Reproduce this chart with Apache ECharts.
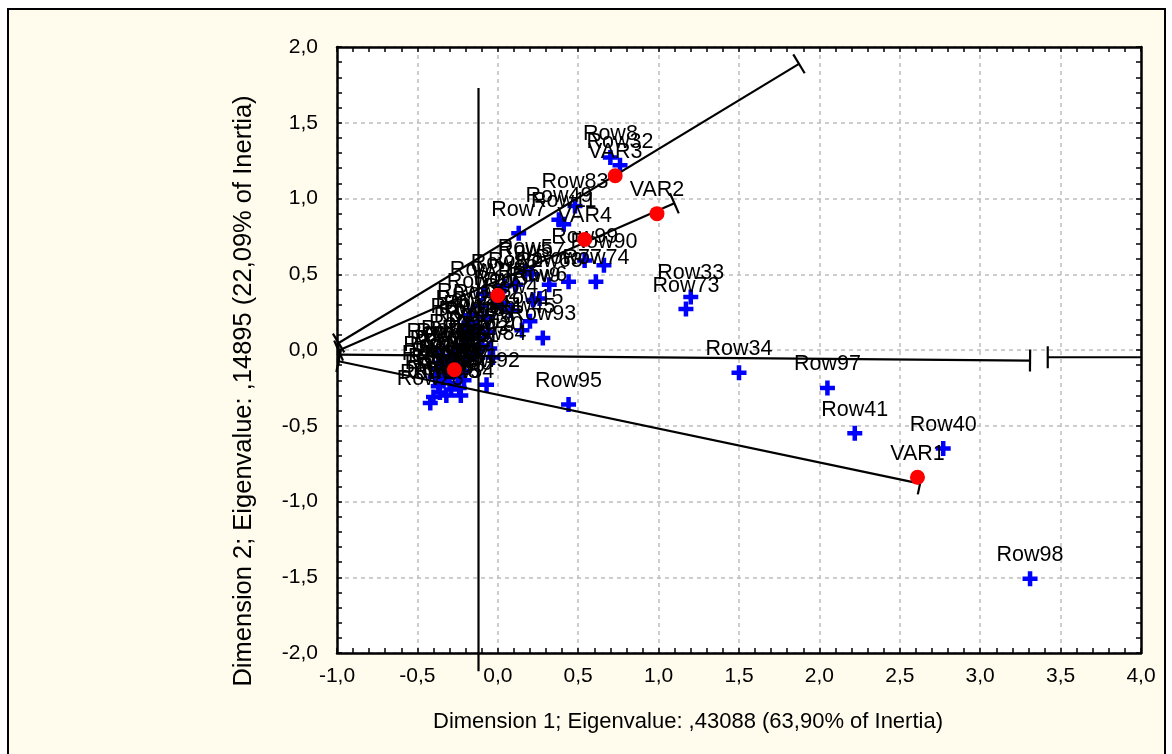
<!DOCTYPE html>
<html>
<head>
<meta charset="utf-8">
<script src="https://cdn.jsdelivr.net/npm/echarts@6/dist/echarts.min.js"></script>
<style>
html,body{margin:0;padding:0;background:#fff;}
#main{width:1172px;height:754px;}
</style>
</head>
<body>
<div id="main"></div>
<script>
// row points (blue crosses)
const rowNames = ['Row8','Row32','Row83','Row49','Row11','Row7','Row99','Row90','Row74','Row77','Row63','Row57',
  'Row33','Row73','Row15','Row45','Row93','Row84','Row92','Row95','Row34','Row97','Row41','Row40','Row98',
  'Row85','Row2','Row3','Row4','Row5','Row6','Row9',
  'Row10','Row12','Row13','Row14','Row16','Row17','Row18','Row19','Row20','Row21','Row22','Row23','Row24','Row25','Row26',
  'Row27','Row28','Row29','Row30','Row31','Row35','Row36','Row37','Row38','Row39','Row42','Row43','Row44','Row46','Row47',
  'Row48','Row50','Row51','Row52','Row53','Row54','Row55','Row56','Row58','Row59'];
const rowX = [0.70,0.76,0.48,0.38,0.41,0.13,0.54,0.66,0.61,0.44,0.32,0.21,
  1.20,1.17,0.20,0.15,0.28,-0.03,-0.07,0.44,1.50,2.05,2.22,2.77,3.31,
  0.04,0.11,0.02,0.08,0.17,0.26,0.22,
  -0.11,-0.07,-0.17,-0.13,-0.21,-0.19,-0.16,-0.10,-0.05,-0.09,-0.22,-0.14,-0.06,-0.18,-0.12,
  -0.40,-0.42,-0.37,-0.33,-0.21,-0.36,-0.30,-0.25,-0.38,-0.34,-0.30,-0.26,-0.22,-0.28,-0.35,
  -0.32,-0.24,-0.20,-0.27,-0.39,-0.23,-0.31,-0.36,-0.29,-0.25];
const rowY = [1.27,1.22,0.95,0.86,0.83,0.77,0.59,0.56,0.45,0.45,0.43,0.50,
  0.35,0.27,0.19,0.13,0.08,-0.05,-0.23,-0.36,-0.15,-0.25,-0.55,-0.65,-1.51,
  0.42,0.43,0.31,0.26,0.52,0.34,0.33,
  0.29,0.22,0.23,0.15,0.13,0.07,0.11,0.03,0.01,0.37,0.02,-0.02,0.12,0.18,0.08,
  -0.31,-0.35,-0.24,-0.17,-0.20,-0.28,-0.22,-0.18,-0.12,-0.08,-0.04,-0.10,-0.14,-0.15,-0.20,
  -0.30,-0.25,-0.06,-0.02,-0.18,-0.30,-0.11,-0.04,-0.26,-0.06];

// column points (red circles)
const varNames = ['VAR1','VAR2','VAR3','VAR4','VAR5','VAR6'];
const varX = [2.61,0.99,0.73,0.54,0.00,-0.27];
const varY = [-0.84,0.90,1.15,0.73,0.36,-0.13];

// biplot vectors: start, end, bar at start, bar at end
const vecX0 = [-0.99,-0.99,-0.99,3.42,-0.99,-0.12];
const vecY0 = [0.046,-0.004,-0.03,-0.048,-0.074,1.73];
const vecX1 = [1.873,1.098,3.31,4.00,2.626,-0.12];
const vecY1 = [1.889,0.968,-0.07,-0.048,-0.882,-2.12];
const vecBar0 = [1,1,1,1,1,0];
const vecBar1 = [1,1,1,0,1,0];

const xTicks = {min: -1, max: 4, interval: 0.5};
const yTicks = {min: -2, max: 2, interval: 0.5};

const FONT = 'Liberation Sans, Arial, sans-serif';
const comma = v => v.toFixed(1).replace('.', ',');

const crossPath = 'path://M3.5,0H6.5V3.5H10V6.5H6.5V10H3.5V6.5H0V3.5H3.5Z';

const rowData = rowNames.map((n, i) => ({name: n, value: [rowX[i], rowY[i]]}));
const varData = varNames.map((n, i) => ({name: n, value: [varX[i], varY[i]]}));
const vecData = vecX0.map((x, i) => [x, vecY0[i], vecX1[i], vecY1[i], vecBar0[i], vecBar1[i]]);

function renderVector(params, api) {
  const p0 = api.coord([api.value(0), api.value(1)]);
  const p1 = api.coord([api.value(2), api.value(3)]);
  const st = {stroke: '#000', lineWidth: 2.2};
  const kids = [{type: 'line', shape: {x1: p0[0], y1: p0[1], x2: p1[0], y2: p1[1]}, style: st}];
  const dx = p1[0] - p0[0], dy = p1[1] - p0[1];
  const len = Math.sqrt(dx * dx + dy * dy);
  const nx = -dy / len * 11, ny = dx / len * 11;
  if (api.value(4)) kids.push({type: 'line', shape: {x1: p0[0] - nx, y1: p0[1] - ny, x2: p0[0] + nx, y2: p0[1] + ny}, style: st});
  if (api.value(5)) kids.push({type: 'line', shape: {x1: p1[0] - nx, y1: p1[1] - ny, x2: p1[0] + nx, y2: p1[1] + ny}, style: st});
  return {type: 'group', children: kids};
}

function mkAxis(t, pos, main) {
  return {
    type: 'value', position: pos, min: t.min, max: t.max, interval: t.interval,
    axisLine: {show: true, onZero: false, lineStyle: {color: '#000', width: 2.5}},
    axisTick: {show: true, inside: true, length: 5, lineStyle: {color: '#000', width: 1.5}},
    minorTick: {show: true, splitNumber: 5, length: 5, lineStyle: {color: '#000', width: 1.5}},
    axisLabel: main ? {show: true, formatter: comma, color: '#000', fontFamily: FONT, fontSize: 21, margin: 13} : {show: false},
    splitLine: main ? {show: true, lineStyle: {color: '#bdbdbd', type: [4, 4], width: 1.5}} : {show: false}
  };
}

const xMain = mkAxis(xTicks, 'bottom', true);
const xTop = mkAxis(xTicks, 'top', false);
const yMain = mkAxis(yTicks, 'left', true);
yMain.axisLabel.margin = 19;
const yRight = mkAxis(yTicks, 'right', false);

const labelStyle = {show: true, position: 'top', distance: 5, formatter: '{b}', color: '#000', fontFamily: FONT, fontSize: 21.5};

const chart = echarts.init(document.getElementById('main'));
chart.setOption({
  animation: false,
  backgroundColor: '#fff',
  graphic: [
    {type: 'rect', z: -10, shape: {x: 8, y: 9, width: 1157, height: 800},
      style: {fill: '#FFFCEE', stroke: '#000', lineWidth: 2}},
    {type: 'text', x: 688, y: 722, style: {text: 'Dimension 1; Eigenvalue: ,43088 (63,90% of Inertia)',
      font: '22px ' + FONT, fill: '#000', textAlign: 'center', textVerticalAlign: 'middle'}},
    {type: 'text', x: 244, y: 391, rotation: Math.PI / 2, style: {text: 'Dimension 2; Eigenvalue: ,14895 (22,09% of Inertia)',
      font: '25.5px ' + FONT, fill: '#000', textAlign: 'center', textVerticalAlign: 'middle'}}
  ],
  grid: {left: 337, right: 31, top: 47, bottom: 101, show: true, backgroundColor: '#fff', borderWidth: 0},
  xAxis: [xMain, xTop],
  yAxis: [yMain, yRight],
  series: [
    {
      type: 'custom', renderItem: renderVector, data: vecData, clip: false, z: 3,
      encode: {x: [0, 2], y: [1, 3]}, silent: true
    },
    {
      type: 'scatter', data: rowData, symbol: crossPath, symbolSize: 15, z: 2,
      itemStyle: {color: '#0000FF', opacity: 1},
      label: labelStyle
    },
    {
      type: 'scatter', data: varData, symbol: 'circle', symbolSize: 15, z: 4,
      itemStyle: {color: '#FF0000', opacity: 1},
      label: labelStyle
    }
  ]
});
</script>
</body>
</html>
